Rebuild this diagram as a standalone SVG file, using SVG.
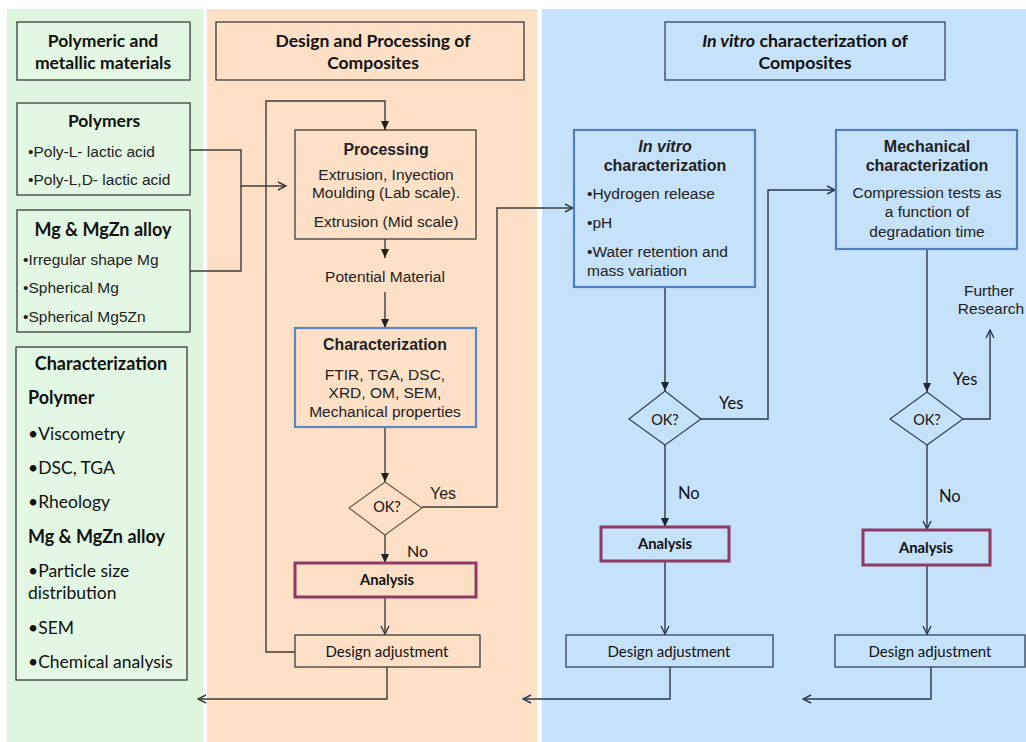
<svg xmlns="http://www.w3.org/2000/svg" width="1026" height="742" viewBox="0 0 1026 742">
<style>
.cal{font-family:Lato,"Open Sans",sans-serif;fill:#111}
.ari{font-family:"Liberation Sans",Arial,sans-serif;fill:#222}
.b{font-weight:bold}
.m{text-anchor:middle}
.box{fill:#e3f8e3;stroke:#3c3c3c;stroke-width:1.3}
.obox{fill:#fde0c6;stroke:#3c3c3c;stroke-width:1.3}
.bbox{fill:#c6e1fa;stroke:#33425a;stroke-width:1.3}
.blue{fill:#fde0c6;stroke:#5b88c4;stroke-width:2.2}
.blue2{fill:#c6e1fa;stroke:#4f7fbd;stroke-width:2.2}
.ana{stroke:#8e3b66;stroke-width:3}
.ln{fill:none;stroke:#3c3c3c;stroke-width:1.4}
.lnb{fill:none;stroke:#2b3a4e;stroke-width:1.4}
</style>
<defs>
<marker id="fa" markerUnits="userSpaceOnUse" markerWidth="10" markerHeight="10" refX="9" refY="5" orient="auto"><path d="M0,1 L9,5 L0,9 z" fill="#222"/></marker>
<marker id="oa" markerUnits="userSpaceOnUse" markerWidth="10" markerHeight="10" refX="9" refY="5" orient="auto"><path d="M1,1 L9,5 L1,9" fill="none" stroke="#3c3c3c" stroke-width="1.4"/></marker>
<marker id="fb" markerUnits="userSpaceOnUse" markerWidth="10" markerHeight="10" refX="9" refY="5" orient="auto"><path d="M0,1 L9,5 L0,9 z" fill="#1c2636"/></marker>
<marker id="ob" markerUnits="userSpaceOnUse" markerWidth="10" markerHeight="10" refX="9" refY="5" orient="auto"><path d="M1,1 L9,5 L1,9" fill="none" stroke="#2b3a4e" stroke-width="1.4"/></marker>
</defs>
<rect width="1026" height="742" fill="#fff"/>
<rect x="7" y="9" width="196" height="733" fill="#ddf6dd"/>
<rect x="207" y="9" width="330" height="733" fill="#fde0c6"/>
<rect x="542" y="9" width="484" height="733" fill="#c6e1fa"/>

<g id="connectors">
<path class="ln" d="M190,150 H241 V186 H286" marker-end="url(#oa)"/>
<path class="ln" d="M190,271 H241 V186"/>
<path class="ln" d="M295,652 H266 V101 H385 V130" marker-end="url(#fa)"/>
<path class="ln" d="M385,239 V258" marker-end="url(#fa)"/>
<path class="ln" d="M385,292 V328" marker-end="url(#fa)"/>
<path class="ln" d="M385,427 V482" marker-end="url(#fa)"/>
<path class="ln" d="M385,535 V563" marker-end="url(#fa)"/>
<path class="ln" d="M385,597 V634" marker-end="url(#oa)"/>
<path class="ln" d="M422,507 H497 V208 H573" marker-end="url(#oa)"/>
<path class="ln" d="M387,667 V699 H198" marker-end="url(#oa)"/>
<path class="lnb" d="M665,287 V391" marker-end="url(#fb)"/>
<path class="lnb" d="M701,419 H768 V190 H835" marker-end="url(#ob)"/>
<path class="lnb" d="M665,445 V527" marker-end="url(#fb)"/>
<path class="lnb" d="M665,561 V634" marker-end="url(#ob)"/>
<path class="lnb" d="M670,667 V699 H523" marker-end="url(#ob)"/>
<path class="lnb" d="M927,249 V392" marker-end="url(#fb)"/>
<path class="lnb" d="M963,419 H990 V330" marker-end="url(#ob)"/>
<path class="lnb" d="M927,445 V529" marker-end="url(#ob)"/>
<path class="lnb" d="M927,565 V634" marker-end="url(#ob)"/>
<path class="lnb" d="M931,667 V699 H803" marker-end="url(#ob)"/>
</g>

<g id="title-materials">
<rect class="box" x="17" y="22" width="173" height="58"/>
<text class="cal b m" x="103" y="47" font-size="17.5">Polymeric and</text>
<text class="cal b m" x="103" y="69" font-size="17.5">metallic materials</text>
</g>
<g id="polymers">
<rect class="box" x="17" y="103" width="173" height="92"/>
<text class="cal b m" x="104" y="127" font-size="17.5">Polymers</text>
<text class="ari" x="28" y="157" font-size="15.5">•Poly-L- lactic acid</text>
<text class="ari" x="28" y="185" font-size="15.5">•Poly-L,D- lactic acid</text>
</g>
<g id="mg-alloy">
<rect class="box" x="17" y="210" width="173" height="122"/>
<text class="cal b m" x="103" y="236" font-size="18">Mg &amp; MgZn alloy</text>
<text class="ari" x="23" y="265" font-size="15.5">•Irregular shape Mg</text>
<text class="ari" x="23" y="293" font-size="15.5">•Spherical Mg</text>
<text class="ari" x="23" y="322" font-size="15.5">•Spherical Mg5Zn</text>
</g>
<g id="characterization-list">
<rect class="box" x="16" y="347" width="171" height="333"/>
<text class="cal b m" x="101" y="370" font-size="18">Characterization</text>
<text class="cal b" x="28" y="404" font-size="18">Polymer</text>
<text class="cal" x="28" y="440" font-size="17.5">•Viscometry</text>
<text class="cal" x="28" y="474" font-size="17.5">•DSC, TGA</text>
<text class="cal" x="28" y="508" font-size="17.5">•Rheology</text>
<text class="cal b" x="28" y="543" font-size="18">Mg &amp; MgZn alloy</text>
<text class="cal" x="28" y="577" font-size="17.5">•Particle size</text>
<text class="cal" x="28" y="599" font-size="17.5">distribution</text>
<text class="cal" x="28" y="634" font-size="17.5">•SEM</text>
<text class="cal" x="28" y="668" font-size="17.5">•Chemical analysis</text>
</g>

<g id="title-design">
<rect class="obox" x="216" y="22" width="308" height="58"/>
<text class="cal b m" x="373" y="47" font-size="17.5">Design and Processing of</text>
<text class="cal b m" x="373" y="69" font-size="17.5">Composites</text>
</g>
<g id="processing">
<rect class="obox" x="295" y="130" width="181" height="109"/>
<text class="ari b m" x="386" y="155" font-size="15.8">Processing</text>
<text class="ari m" x="386" y="180" font-size="15.5">Extrusion, Inyection</text>
<text class="ari m" x="386" y="198" font-size="15.5">Moulding (Lab scale).</text>
<text class="ari m" x="386" y="227" font-size="15.5">Extrusion (Mid scale)</text>
</g>
<g id="potential-material">
<text class="ari m" x="385" y="282" font-size="15.5">Potential Material</text>
</g>
<g id="characterization">
<rect class="blue" x="295" y="328" width="181" height="99"/>
<text class="ari b m" x="385" y="350" font-size="15.8">Characterization</text>
<text class="ari m" x="385" y="380" font-size="15.5">FTIR, TGA, DSC,</text>
<text class="ari m" x="385" y="398" font-size="15.5">XRD, OM, SEM,</text>
<text class="ari m" x="385" y="417" font-size="15.5">Mechanical properties</text>
</g>
<g id="ok1">
<polygon points="385,482 422,508 385,535 349,508" fill="#fde0c6" stroke="#6b5a4a" stroke-width="1.2"/>
<text class="cal m" x="387" y="512" font-size="14.5">OK?</text>
<text class="ari" x="430" y="499" font-size="16">Yes</text>
<text class="cal" x="407" y="557" font-size="16">No</text>
</g>
<g id="analysis1">
<rect class="obox ana" x="295" y="563" width="181" height="34"/>
<text class="cal b m" x="387" y="585" font-size="14.8">Analysis</text>
</g>
<g id="design-adj1">
<rect class="obox" x="295" y="635" width="185" height="32"/>
<text class="cal m" x="387" y="657" font-size="15">Design adjustment</text>
</g>

<g id="title-invitro">
<rect class="bbox" x="665" y="22" width="280" height="58"/>
<text class="cal b m" x="805" y="47" font-size="17.8"><tspan font-style="italic">In vitro</tspan> characterization of</text>
<text class="cal b m" x="805" y="69" font-size="17.8">Composites</text>
</g>
<g id="invitro">
<rect class="blue2" x="574" y="130" width="181" height="157"/>
<text class="ari b m" x="665" y="152" font-size="16" font-style="italic">In vitro</text>
<text class="ari b m" x="665" y="171" font-size="16">characterization</text>
<text class="ari" x="587" y="199" font-size="15.5">•Hydrogen release</text>
<text class="ari" x="587" y="228" font-size="15.5">•pH</text>
<text class="ari" x="587" y="257" font-size="15.5">•Water retention and</text>
<text class="ari" x="587" y="276" font-size="15.5">mass variation</text>
</g>
<g id="mechanical">
<rect class="blue2" x="836" y="130" width="181" height="119"/>
<text class="ari b m" x="927" y="152" font-size="16">Mechanical</text>
<text class="ari b m" x="927" y="171" font-size="16">characterization</text>
<text class="ari m" x="927" y="198" font-size="15.5">Compression tests as</text>
<text class="ari m" x="927" y="217" font-size="15.5">a function of</text>
<text class="ari m" x="927" y="237" font-size="15.5">degradation time</text>
</g>
<g id="ok2">
<polygon points="665,391 701,419 665,445 629,419" fill="#c6e1fa" stroke="#33425a" stroke-width="1.2"/>
<text class="cal m" x="665" y="425" font-size="14.5">OK?</text>
<text class="cal" x="719" y="409" font-size="16.5">Yes</text>
<text class="cal" x="678" y="499" font-size="16.5">No</text>
</g>
<g id="analysis2">
<rect class="bbox ana" x="601" y="527" width="128" height="34"/>
<text class="cal b m" x="665" y="549" font-size="14.8">Analysis</text>
</g>
<g id="design-adj2">
<rect class="bbox" x="566" y="635" width="207" height="32"/>
<text class="cal m" x="669" y="657" font-size="15">Design adjustment</text>
</g>
<g id="ok3">
<polygon points="927,392 963,419 927,445 890,419" fill="#c6e1fa" stroke="#33425a" stroke-width="1.2"/>
<text class="cal m" x="927" y="425" font-size="14.5">OK?</text>
<text class="cal" x="953" y="385" font-size="16.5">Yes</text>
<text class="cal" x="939" y="502" font-size="16.5">No</text>
</g>
<g id="further-research">
<text class="ari m" x="989" y="296" font-size="15.5">Further</text>
<text class="ari m" x="991" y="314" font-size="15.5">Research</text>
</g>
<g id="analysis3">
<rect class="bbox ana" x="863" y="530" width="127" height="35"/>
<text class="cal b m" x="926" y="553" font-size="14.8">Analysis</text>
</g>
<g id="design-adj3">
<rect class="bbox" x="835" y="635" width="190" height="32"/>
<text class="cal m" x="930" y="657" font-size="15">Design adjustment</text>
</g>
</svg>
